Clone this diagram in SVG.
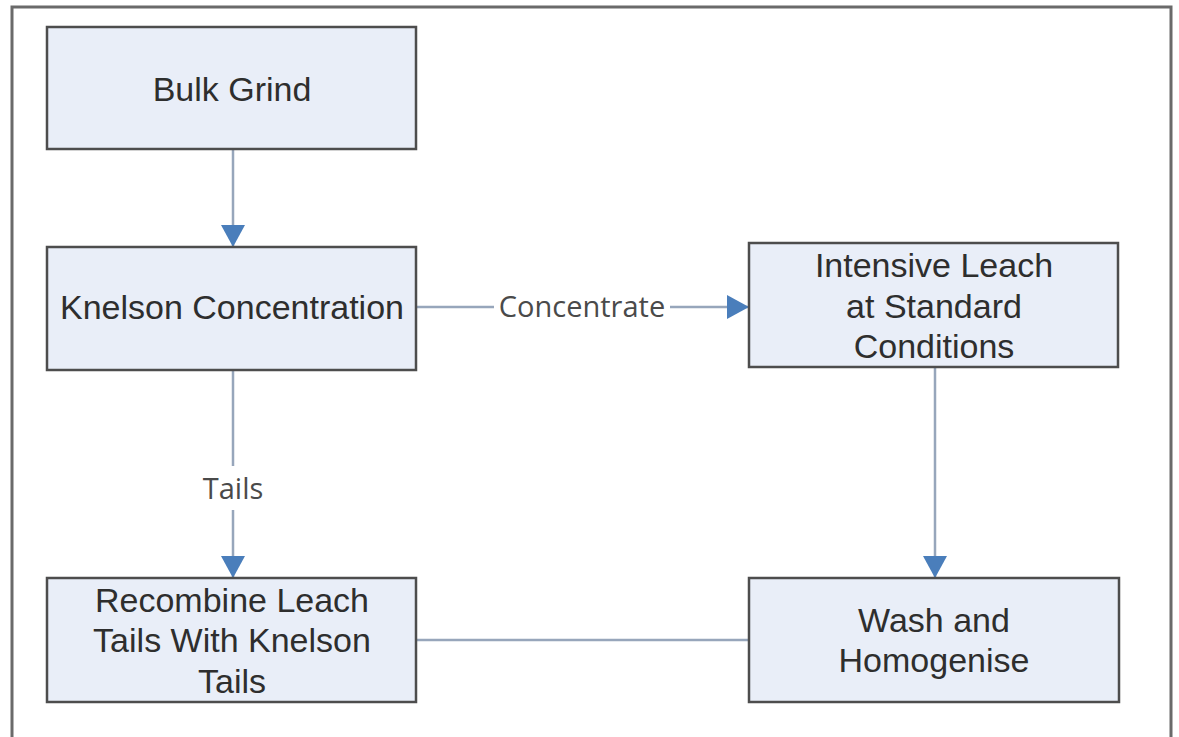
<svg xmlns="http://www.w3.org/2000/svg" width="1179" height="737" viewBox="0 0 1179 737">
<style>
.box{fill:#e9eef8;stroke:#4d4d4d;stroke-width:2.5}
.t{font-family:"Liberation Sans",Arial,sans-serif;font-size:34px;fill:#2e2e2e;text-anchor:middle}
.lbl{font-family:"Open Sans","Noto Sans",sans-serif;font-size:29px;fill:#4a4a4a;text-anchor:middle}
.ln{stroke:#97a6bb;stroke-width:2.5;fill:none}
</style>
<defs>
<marker id="ah2" viewBox="0 0 22 24" refX="22" refY="12" markerWidth="22" markerHeight="24" markerUnits="userSpaceOnUse" orient="auto">
<path d="M0,0 L22,12 L0,24 z" fill="#4a7ebb"/>
</marker>
</defs>
<rect x="0" y="0" width="1179" height="737" fill="#ffffff"/>
<path d="M12,737 V7 H1171 V737" fill="none" stroke="#6a6a6a" stroke-width="3"/>
<g id="connectors">
<line class="ln" x1="233" y1="149" x2="233" y2="247" marker-end="url(#ah2)"/>
<line class="ln" x1="416" y1="307" x2="494" y2="307"/>
<line class="ln" x1="670" y1="307" x2="749" y2="307" marker-end="url(#ah2)"/>
<text class="lbl" x="582" y="317">Concentrate</text>
<line class="ln" x1="233" y1="370" x2="233" y2="466"/>
<line class="ln" x1="233" y1="510" x2="233" y2="578" marker-end="url(#ah2)"/>
<text class="lbl" x="233" y="499">Tails</text>
<line class="ln" x1="935" y1="367" x2="935" y2="578" marker-end="url(#ah2)"/>
<line class="ln" x1="416" y1="640" x2="749" y2="640"/>
</g>
<g id="bulk-grind">
<rect class="box" x="47" y="27" width="369" height="122"/>
<text class="t" x="232" y="101">Bulk Grind</text>
</g>
<g id="knelson">
<rect class="box" x="47" y="247" width="369" height="123"/>
<text class="t" x="232" y="319">Knelson Concentration</text>
</g>
<g id="intensive-leach">
<rect class="box" x="749" y="243" width="369" height="124"/>
<text class="t" x="934" y="277">Intensive Leach</text>
<text class="t" x="934" y="318">at Standard</text>
<text class="t" x="934" y="358">Conditions</text>
</g>
<g id="recombine">
<rect class="box" x="47" y="578" width="369" height="124"/>
<text class="t" x="232" y="612">Recombine Leach</text>
<text class="t" x="232" y="652">Tails With Knelson</text>
<text class="t" x="232" y="693">Tails</text>
</g>
<g id="wash">
<rect class="box" x="749" y="578" width="370" height="124"/>
<text class="t" x="934" y="632">Wash and</text>
<text class="t" x="934" y="672">Homogenise</text>
</g>
</svg>
